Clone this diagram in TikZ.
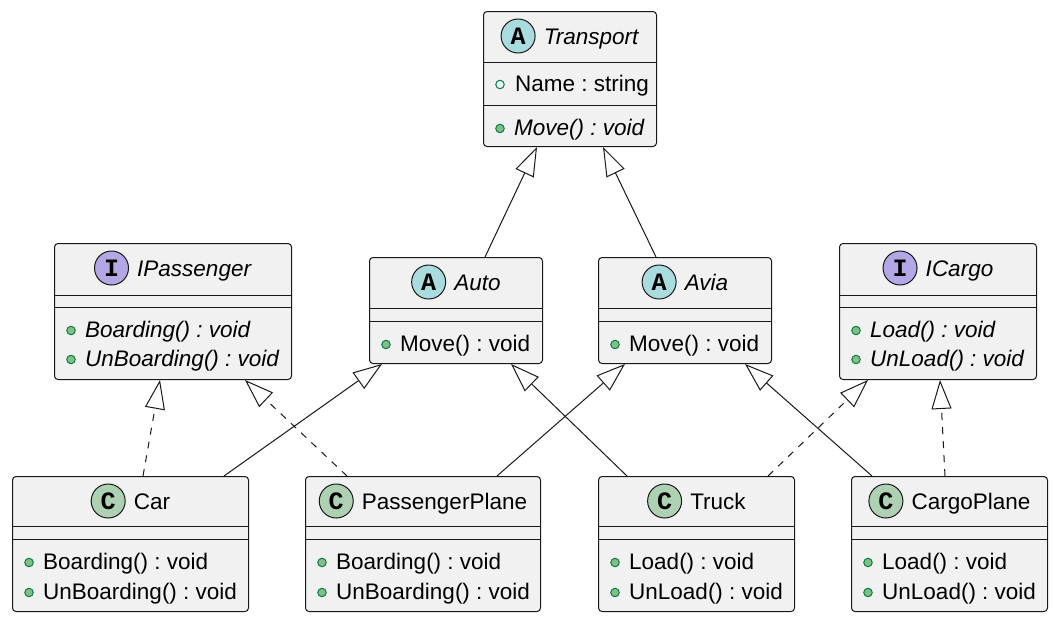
\documentclass[tikz,border=0pt]{standalone}
\usepackage{fontspec}
\setmainfont{Liberation Sans}
\newfontfamily\iconfont{Liberation Mono}
\usetikzlibrary{arrows.meta,calc}
\frenchspacing

\definecolor{boxfill}{HTML}{F1F1F1}
\definecolor{boxline}{HTML}{181818}
\definecolor{abscol}{HTML}{A9DCDF}
\definecolor{intcol}{HTML}{B4A7E5}
\definecolor{clscol}{HTML}{ADD1B2}
\definecolor{dotfill}{HTML}{84BE84}
\definecolor{dotline}{HTML}{038048}

\tikzset{
    cls/.style={draw=boxline, fill=boxfill, line width=1pt, rounded corners=3.5pt,
        anchor=north west, inner sep=0pt},
    divider/.style={draw=boxline, line width=1pt},
    cname/.style={anchor=base, inner sep=0pt, font=\fontsize{22.5}{27}\selectfont},
    member/.style={anchor=base west, inner sep=0pt, font=\fontsize{22.5}{27}\selectfont},
    icon/.style={circle, draw=boxline, line width=1pt, minimum size=34pt, inner sep=0pt,
        font=\iconfont\bfseries\fontsize{25}{25}\selectfont},
    meth/.style={circle, draw=dotline, fill=dotfill, line width=1pt, minimum size=8.5pt, inner sep=0pt},
    field/.style={circle, draw=dotline, line width=1pt, minimum size=8.5pt, inner sep=0pt},
    extends/.style={draw=boxline, line width=1pt, -{Triangle[open, length=29pt, width=20pt]}},
    implements/.style={extends, dash pattern=on 7pt off 7pt}
}

\begin{document}
\begin{tikzpicture}[x=1pt, y=-1pt]
    \useasboundingbox (0,0) rectangle (1056,621);

    % class boxes
    \node[cls, minimum width=173, minimum height=135] (transport) at (483,11) {};
    \node[cls, minimum width=237, minimum height=136] (ipassenger) at (54,243) {};
    \node[cls, minimum width=173, minimum height=106] (auto) at (369,257) {};
    \node[cls, minimum width=173, minimum height=106] (avia) at (598,257) {};
    \node[cls, minimum width=197, minimum height=136] (icargo) at (839,243) {};
    \node[cls, minimum width=236, minimum height=135] (car) at (12,476) {};
    \node[cls, minimum width=235, minimum height=135] (pplane) at (305,476) {};
    \node[cls, minimum width=196, minimum height=135] (truck) at (598,476) {};
    \node[cls, minimum width=196, minimum height=135] (cplane) at (851,476) {};

    % compartments
    \foreach \c/\a/\b in {transport/51/94, ipassenger/52/64, auto/51/64, avia/51/64,
                          icargo/52/64, car/50/63, pplane/50/63, truck/50/63, cplane/50/63} {
        \draw[divider] ($(\c.north west)+(0,\a)$) -- ($(\c.north east)+(0,\a)$);
        \draw[divider] ($(\c.north west)+(0,\b)$) -- ($(\c.north east)+(0,\b)$);
    }

    % headers
    \foreach \c/\k/\col/\t in {transport/A/abscol/{\textit{Transport}},
                               ipassenger/I/intcol/{\textit{IPassenger}},
                               auto/A/abscol/{\textit{Auto}},
                               avia/A/abscol/{\textit{Avia}},
                               icargo/I/intcol/{\textit{ICargo}},
                               car/C/clscol/Car, pplane/C/clscol/PassengerPlane,
                               truck/C/clscol/Truck, cplane/C/clscol/CargoPlane} {
        \node[cname] (\c-n) at ($(\c.north)+(21.5,33)$) {\t};
        \node[icon, fill=\col] (\c-i) at ($(\c-n.base west)+(-25.5,-8)$) {\k};
    }

    % members
    \node[field] (transport-f) at ($(transport.north west)+(17,73.5)$) {};
    \node[member] (transport-a) at ($(transport.north west)+(32,80)$) {Name : string};
    \foreach \c/\y/\t in {transport/124/{\textit{Move() : void}},
                          ipassenger/94/{\textit{Boarding() : void}},
                          ipassenger/123/{\textit{UnBoarding() : void}},
                          auto/94/Move() : void, avia/94/Move() : void,
                          icargo/94/{\textit{Load() : void}},
                          icargo/123/{\textit{UnLoad() : void}},
                          car/93/Boarding() : void, car/123/UnBoarding() : void,
                          pplane/93/Boarding() : void, pplane/123/UnBoarding() : void,
                          truck/93/Load() : void, truck/123/UnLoad() : void,
                          cplane/93/Load() : void, cplane/123/UnLoad() : void} {
        \node[meth] at ($(\c.north west)+(17,\y-6.5)$) {};
        \node[member] at ($(\c.north west)+(31,\y)$) {\t};
    }

    % inheritance
    \foreach \a/\sa/\b/\sb in {auto/116/transport/54, avia/58/transport/120,
                               car/212/auto/13, pplane/192/avia/27,
                               truck/29/auto/142, cplane/21/avia/147}
        \draw[extends] ($(\a.north west)+(\sa,0)$) -- ($(\b.south west)+(\sb,0)$);

    % realization
    \foreach \a/\sa/\b/\sb in {car/131/ipassenger/106, pplane/42/ipassenger/191,
                               truck/170/icargo/29, cplane/94/icargo/101}
        \draw[implements] ($(\a.north west)+(\sa,0)$) -- ($(\b.south west)+(\sb,0)$);
\end{tikzpicture}
\end{document}
